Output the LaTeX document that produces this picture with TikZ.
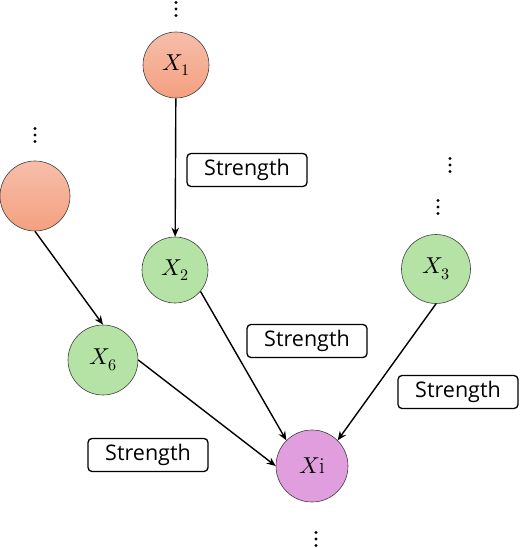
\documentclass[tikz,border=0pt]{standalone}
\usepackage{fontspec}
\usepackage{unicode-math}
\setmathfont{Latin Modern Math}
\newfontfamily\labelfont{Open Sans}
\usetikzlibrary{arrows.meta}
\definecolor{salmonTop}{RGB}{246,190,170}
\definecolor{salmonBot}{RGB}{244,160,128}
\definecolor{greenFill}{RGB}{181,227,165}
\definecolor{pinkFill}{RGB}{224,158,222}
\begin{document}
\begin{tikzpicture}[x=1pt,y=-1pt,
  var/.style={circle, draw=black!75, line width=0.6pt, minimum size=#1, inner sep=0pt,
    font=\fontsize{23}{27}\selectfont},
  salmonvar/.style={top color=salmonTop, bottom color=salmonBot},
  greenvar/.style={fill=greenFill},
  pinkvar/.style={fill=pinkFill},
  conn/.style={-{Stealth[length=9pt,width=7.5pt]}, line width=1.4pt},
  strength/.style={draw, line width=1.3pt, rounded corners=4pt, fill=white,
    minimum width=120pt, minimum height=33pt, inner sep=0pt,
    font=\labelfont\fontsize{21.5}{25}\selectfont},
  dotc/.style={fill=black}
]
\useasboundingbox (0,0) rectangle (520,548);

\node[var=66pt, salmonvar] (x1) at (176,65) {$X_1$};
\node[var=70pt, salmonvar] (l) at (35,196) {};
\node[var=66pt, greenvar] (x2) at (175,270) {$X_2$};
\node[var=69pt, greenvar] (x3) at (436,269) {$X_3$};
\node[var=70pt, greenvar] (x6) at (103,360) {$X_6$};
\node[var=72pt, pinkvar] (xi) at (312,466) {$X\mathrm{i}$};

\node[strength] (s1) at (247,170) {Strength};
\node[strength] (s2) at (307,341) {Strength};
\node[strength] (s3) at (458,392) {Strength};
\node[strength] (s4) at (148,455) {Strength};

\coordinate (d1) at (176,9);
\coordinate (d2) at (35,135);
\coordinate (d3) at (450,165);
\coordinate (d4) at (438,207);
\coordinate (d5) at (316,539);
\foreach \c in {d1,d2,d3,d4,d5}
  \foreach \dy in {-6.5,0,6.5}
    \fill[dotc, shift={(\c)}] (0,\dy) circle (1.6pt);

\draw[conn] (x1) -- (x2);
\draw[conn] (l.south) -- (x6.north);
\draw[conn] (x6.east) -- (xi.west);
\draw[conn] (x2.-40) -- (xi.north west);
\draw[conn] (x3.south) -- (xi.north east);
\end{tikzpicture}
\end{document}
